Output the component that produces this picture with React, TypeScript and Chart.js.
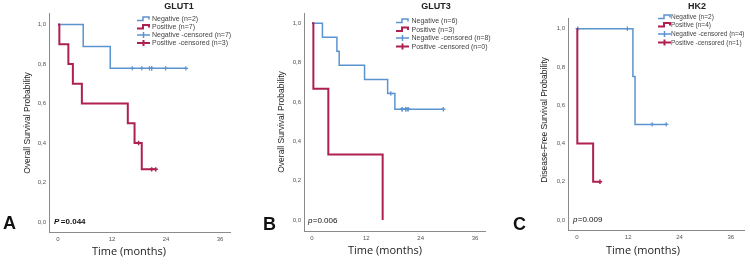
import React, { useEffect, useRef } from "react";
import { Chart, registerables } from "chart.js";

Chart.register(...registerables);

// ---------- shared axis ticks ----------
const xTickValues = [0, 12, 24, 36];
const yTickValues = [0, 0.2, 0.4, 0.6, 0.8, 1.0];

// ---------- Panel A: GLUT1 ----------
const glut1NegTimes = [5.6, 11.6];
const glut1NegSurv = [0.889, 0.778];
const glut1NegCens = [16.5, 18.6, 20.3, 20.8, 20.8, 23.9, 28.4];
const glut1PosTimes = [0.3, 2.3, 3.3, 5.3, 15.5, 17.0, 18.6];
const glut1PosSurv = [0.9, 0.8, 0.7, 0.6, 0.5, 0.4, 0.267];
const glut1PosCens = [17.9, 20.8, 21.7];
const glut1Legend = ["Negative (n=2)", "Positive (n=7)", "Negative -censored (n=7)", "Positive -censored (n=3)"];

// ---------- Panel B: GLUT3 ----------
const glut3NegTimes = [2.3, 5.5, 6.0, 11.6, 16.7, 18.3];
const glut3NegSurv = [0.929, 0.857, 0.786, 0.714, 0.643, 0.563];
const glut3NegCens = [17.4, 19.9, 19.9, 20.7, 20.7, 21.2, 21.2, 29.0];
const glut3PosTimes = [0.3, 3.6, 15.6];
const glut3PosSurv = [0.667, 0.333, 0];
const glut3PosCens: number[] = [];
const glut3Legend = ["Negative (n=6)", "Positive (n=3)", "Negative -censored (n=8)", "Positive -censored (n=0)"];

// ---------- Panel C: HK2 ----------
const hk2NegTimes = [13.1, 13.6];
const hk2NegSurv = [0.75, 0.5];
const hk2NegCens = [0.2, 11.8, 17.6, 20.9];
const hk2PosTimes = [0.1, 3.8];
const hk2PosSurv = [0.4, 0.2];
const hk2PosCens = [5.4];
const hk2Legend = ["Negative (n=2)", "Positive (n=4)", "Negative -censored (n=4)", "Positive -censored (n=1)"];

const BLUE = "#5b93cf";
const RED = "#ad2050";
const FONT = "'Liberation Sans', Arial, sans-serif";
Chart.defaults.font.family = FONT;

function survAt(times: number[], surv: number[], t: number) {
  let s = 1;
  for (let i = 0; i < times.length; i++) if (times[i] <= t) s = surv[i];
  return s;
}

function curve(times: number[], surv: number[], cens: number[]) {
  const pts: { x: number; y: number }[] = [{ x: 0, y: 1 }];
  let prev = 1;
  times.forEach((t, i) => {
    pts.push({ x: t, y: prev });
    pts.push({ x: t, y: surv[i] });
    prev = surv[i];
  });
  const end = Math.max(times.length ? times[times.length - 1] : 0, cens.length ? Math.max(...cens) : 0);
  if (end > pts[pts.length - 1].x) pts.push({ x: end, y: prev });
  return pts;
}

function censPoints(times: number[], surv: number[], cens: number[]) {
  return cens.map((c) => ({ x: c, y: survAt(times, surv, c) }));
}

type Panel = {
  offset: number;
  letter: string;
  title: string;
  yTitle: string;
  pLetter: string;
  pRest: string;
  pBold: boolean;
  legend: string[];
  legendFont: number;
  neg: [number[], number[], number[]];
  pos: [number[], number[], number[]];
  area: { left: number; right: number; top: number; bottom: number };
  xRange: [number, number];
  yRange: [number, number];
  titleX: number;
  legendIconX: number;
  legendTextX: number;
  legendRows: number[];
  letterX: number;
  letterY: number;
  yTitleX: number;
  yTitleY: number;
  xTitleX: number;
  xTitleY: number;
  pX: number;
  pY: number;
};

const panels: Panel[] = [
  {
    offset: 0, letter: "A", title: "GLUT1", yTitle: "Overall Survival Probability",
    pLetter: "P", pRest: "=0.044", pBold: true, legend: glut1Legend, legendFont: 7,
    neg: [glut1NegTimes, glut1NegSurv, glut1NegCens], pos: [glut1PosTimes, glut1PosSurv, glut1PosCens],
    area: { left: 49, right: 230, top: 13, bottom: 232 }, xRange: [-2, 38.2], yRange: [-0.05, 1.058],
    titleX: 179, legendIconX: 137, legendTextX: 152, legendRows: [19, 27, 35, 43],
    letterX: 3, letterY: 224, yTitleX: 28, yTitleY: 123, xTitleX: 129, xTitleY: 252, pX: 54, pY: 222,
  },
  {
    offset: 250, letter: "B", title: "GLUT3", yTitle: "Overall Survival Probability",
    pLetter: "p", pRest: "=0.006", pBold: false, legend: glut3Legend, legendFont: 7,
    neg: [glut3NegTimes, glut3NegSurv, glut3NegCens], pos: [glut3PosTimes, glut3PosSurv, glut3PosCens],
    area: { left: 54, right: 235, top: 13, bottom: 231 }, xRange: [-1.77, 38.2], yRange: [-0.056, 1.052],
    titleX: 186, legendIconX: 146, legendTextX: 161.5, legendRows: [21, 29.5, 38, 46.5],
    letterX: 13, letterY: 225, yTitleX: 32, yTitleY: 122, xTitleX: 135, xTitleY: 251, pX: 58, pY: 221,
  },
  {
    offset: 500, letter: "C", title: "HK2", yTitle: "Disease-Free Survival Probability",
    pLetter: "p", pRest: "=0.009", pBold: false, legend: hk2Legend, legendFont: 6.5,
    neg: [hk2NegTimes, hk2NegSurv, hk2NegCens], pos: [hk2PosTimes, hk2PosSurv, hk2PosCens],
    area: { left: 68, right: 247, top: 18, bottom: 230 }, xRange: [-2.08, 39.2], yRange: [-0.052, 1.056],
    titleX: 197, legendIconX: 158, legendTextX: 171, legendRows: [17, 25, 34, 42.5],
    letterX: 13, letterY: 225, yTitleX: 45, yTitleY: 120, xTitleX: 143, xTitleY: 251, pX: 73, pY: 220,
  },
];

const W = 250;
const H = 265;

function makeDecor(p: Panel) {
  return {
    id: "decor" + p.letter,
    afterDraw(chart: any) {
      const ctx = chart.ctx as CanvasRenderingContext2D;
      ctx.save();
      // title
      ctx.fillStyle = "#222";
      ctx.font = `bold 9px ${FONT}`;
      ctx.textAlign = "center";
      ctx.textBaseline = "middle";
      ctx.fillText(p.title, p.titleX, 6.5);
      // legend
      const colors = [BLUE, RED, BLUE, RED];
      p.legend.forEach((label, i) => {
        const y = p.legendRows[i];
        const ix = p.legendIconX;
        ctx.strokeStyle = colors[i];
        ctx.lineWidth = i % 2 === 0 ? 1.5 : 2;
        ctx.beginPath();
        if (i < 2) {
          ctx.moveTo(ix, y + 1.5);
          ctx.lineTo(ix + 6, y + 1.5);
          ctx.lineTo(ix + 6, y - 2);
          ctx.lineTo(ix + 12, y - 2);
          ctx.lineTo(ix + 12, y + 0.5);
        } else {
          ctx.moveTo(ix, y);
          ctx.lineTo(ix + 13, y);
          ctx.moveTo(ix + 6.5, y - 3);
          ctx.lineTo(ix + 6.5, y + 3);
        }
        ctx.stroke();
        ctx.fillStyle = "#444";
        ctx.font = `${p.legendFont}px ${FONT}`;
        ctx.textAlign = "left";
        ctx.fillText(label, p.legendTextX, y + 0.5);
      });
      // panel letter
      ctx.fillStyle = "#111";
      ctx.font = `bold 18px ${FONT}`;
      ctx.textAlign = "left";
      ctx.fillText(p.letter, p.letterX, p.letterY);
      // x title
      ctx.font = `11px 'Open Sans', ${FONT}`;
      ctx.fillStyle = "#222";
      ctx.textAlign = "center";
      ctx.fillText("Time (months)", p.xTitleX, p.xTitleY);
      // y title
      ctx.save();
      ctx.translate(p.yTitleX, p.yTitleY);
      ctx.rotate(-Math.PI / 2);
      ctx.font = `8.5px ${FONT}`;
      ctx.fillText(p.yTitle, 0, 0);
      ctx.restore();
      // p value
      ctx.textAlign = "left";
      ctx.fillStyle = "#111";
      const w = p.pBold ? "bold " : "";
      ctx.font = `italic ${w}8px ${FONT}`;
      ctx.fillText(p.pLetter, p.pX, p.pY);
      const lw = ctx.measureText(p.pLetter).width + (p.pBold ? 1.5 : 0.3);
      ctx.font = `${w}8px ${FONT}`;
      ctx.fillText(p.pRest, p.pX + lw, p.pY);
      ctx.restore();
    },
  };
}

function PanelChart({ p }: { p: Panel }) {
  const ref = useRef<HTMLCanvasElement>(null);
  useEffect(() => {
    if (!ref.current) return;
    const [nt, ns, nc] = p.neg;
    const [pt, ps, pc] = p.pos;
    const chart = new Chart(ref.current, {
      type: "line",
      data: {
        datasets: [
          { data: curve(pt, ps, pc), borderColor: RED, borderWidth: 2, pointRadius: 0, tension: 0, fill: false },
          {
            data: censPoints(pt, ps, pc), showLine: false, borderColor: RED, backgroundColor: RED,
            pointStyle: "cross", pointRadius: 2.2, pointBorderWidth: 1.5,
          },
          { data: curve(nt, ns, nc), borderColor: BLUE, borderWidth: 1.5, pointRadius: 0, tension: 0, fill: false },
          {
            data: censPoints(nt, ns, nc), showLine: false, borderColor: BLUE, backgroundColor: BLUE,
            pointStyle: "cross", pointRadius: 2.2, pointBorderWidth: 1.2,
          },
        ],
      },
      options: {
        animation: false,
        responsive: false,
        maintainAspectRatio: false,
        layout: { padding: { left: 0, right: W - p.area.right, top: p.area.top, bottom: 0 } },
        plugins: { legend: { display: false }, tooltip: { enabled: false }, title: { display: false } },
        scales: {
          x: {
            type: "linear",
            min: p.xRange[0],
            max: p.xRange[1],
            afterFit: (s: any) => { s.height = H - p.area.bottom; },
            afterBuildTicks: (s: any) => { s.ticks = xTickValues.map((v) => ({ value: v })); },
            grid: { display: true, drawOnChartArea: false, drawTicks: false },
            border: { display: true, color: "#8a8a8a", width: 1 },
            ticks: { font: { size: 6, family: FONT }, color: "#555", padding: 4, maxRotation: 0, autoSkip: false },
          },
          y: {
            type: "linear",
            min: p.yRange[0],
            max: p.yRange[1],
            afterFit: (s: any) => { s.width = p.area.left; },
            afterBuildTicks: (s: any) => { s.ticks = yTickValues.map((v) => ({ value: v })); },
            grid: { display: true, drawOnChartArea: false, drawTicks: false },
            border: { display: true, color: "#8a8a8a", width: 1 },
            ticks: {
              font: { size: 6, family: FONT }, color: "#555", padding: 3, autoSkip: false,
              callback: (v: any) => Number(v).toFixed(1).replace(".", ","),
            },
          },
        },
      },
      plugins: [makeDecor(p)],
    } as any);
    return () => chart.destroy();
  }, [p]);
  return (
    <canvas
      ref={ref}
      width={W}
      height={H}
      style={{ position: "absolute", left: p.offset, top: 0, width: W, height: H }}
    />
  );
}

export default function App() {
  return (
    <div style={{ position: "absolute", left: 0, top: 0, width: 750, height: 265, background: "#fff" }}>
      {panels.map((p) => (
        <PanelChart key={p.letter} p={p} />
      ))}
    </div>
  );
}
